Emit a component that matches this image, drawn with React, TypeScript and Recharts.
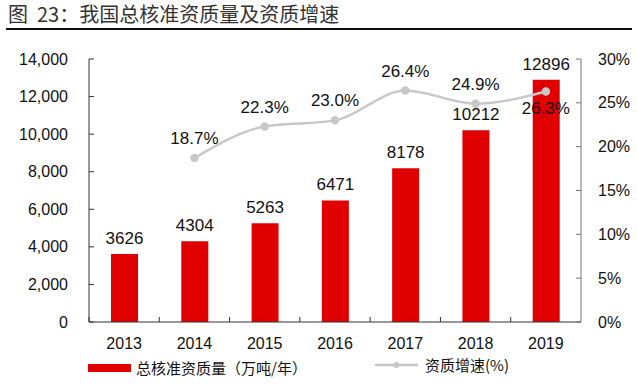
import { ComposedChart, Bar, Line, XAxis, YAxis, LabelList } from 'recharts';

const years = ['2013', '2014', '2015', '2016', '2017', '2018', '2019'];
const volume = [3626, 4304, 5263, 6471, 8178, 10212, 12896];
const growth = [null, 18.7, 22.3, 23.0, 26.4, 24.9, 26.3];
const leftTicks = [0, 2000, 4000, 6000, 8000, 10000, 12000, 14000];
const rightTicks = [0, 5, 10, 15, 20, 25, 30];

const W = 637;
const H = 386;
const LEFT_W = 89;
const RIGHT_W = 56;
const FONT = '"Liberation Sans", Arial, sans-serif';
const CJK = '"Noto Sans CJK SC", sans-serif';
const RED = '#e00000';
const GREY = '#c8c8c8';

const band = (W - LEFT_W - RIGHT_W) / years.length;

const data = years.map((y, i) => ({ year: y, volume: volume[i], growth: growth[i] }));

const LeftTick = ({ x, y, payload }: any) => (
  <g>
    <line x1={x} x2={x + 5} y1={y} y2={y} stroke="#333" />
    <text x={x - 21} y={y} dy="0.35em" textAnchor="end" fontSize={16} fill="#111" fontFamily={FONT}>
      {payload.value.toLocaleString('en-US')}
    </text>
  </g>
);

const RightTick = ({ x, y, payload }: any) => (
  <g>
    <line x1={x - 5} x2={x} y1={y} y2={y} stroke="#777" />
    <text x={x + 17} y={y} dy="0.35em" textAnchor="start" fontSize={16} fill="#111" fontFamily={FONT}>
      {payload.value}%
    </text>
  </g>
);

const BottomTick = ({ x, y, payload }: any) => (
  <g>
    <line x1={x - band / 2} x2={x - band / 2} y1={y} y2={y - 5} stroke="#333" />
    <text x={x} y={y + 27} textAnchor="middle" fontSize={16} fill="#111" fontFamily={FONT}>
      {payload.value}
    </text>
  </g>
);

// last point's label sits under the dot
const GrowthLabel = ({ x, y, value, index }: any) => {
  if (value == null) return null;
  const below = index === years.length - 1;
  return (
    <text x={x} y={below ? y + 23 : y - 14} textAnchor="middle" fontSize={17} fill="#111" fontFamily={FONT}>
      {Number(value).toFixed(1)}%
    </text>
  );
};

export default function App() {
  return (
    <div style={{ position: 'absolute', left: 0, top: 0, width: W, height: H, background: '#fff' }}>
      <div style={{ position: 'absolute', left: 8, top: 3, fontSize: 20, lineHeight: '22px', color: '#333', fontFamily: CJK, whiteSpace: 'nowrap' }}>
        图&nbsp;&nbsp;23：我国总核准资质量及资质增速
      </div>
      <div style={{ position: 'absolute', left: 6, top: 28, width: 626, height: 2, background: '#111' }} />

      <ComposedChart width={W} height={H} data={data} margin={{ top: 59, right: 0, bottom: 34, left: 0 }}>
        <XAxis
          dataKey="year"
          height={30}
          axisLine={{ stroke: '#333' }}
          tickLine={false}
          tickSize={0}
          tickMargin={0}
          tick={<BottomTick />}
          interval={0}
        />
        <YAxis
          yAxisId="left"
          width={LEFT_W}
          domain={[0, 14000]}
          ticks={leftTicks}
          axisLine={{ stroke: '#333' }}
          tickLine={false}
          tickSize={0}
          tickMargin={0}
          tick={<LeftTick />}
          interval={0}
        />
        <YAxis
          yAxisId="right"
          orientation="right"
          width={RIGHT_W}
          domain={[0, 30]}
          ticks={rightTicks}
          axisLine={{ stroke: '#777' }}
          tickLine={false}
          tickSize={0}
          tickMargin={0}
          tick={<RightTick />}
          interval={0}
        />
        <Bar yAxisId="left" dataKey="volume" fill={RED} barSize={27} isAnimationActive={false}>
          <LabelList dataKey="volume" position="top" offset={10} fontSize={17} fill="#111" fontFamily={FONT} />
        </Bar>
        <Line
          yAxisId="right"
          dataKey="growth"
          type="monotone"
          stroke={GREY}
          strokeWidth={2.5}
          dot={{ r: 3, fill: GREY, stroke: GREY }}
          isAnimationActive={false}
        >
          <LabelList dataKey="growth" content={<GrowthLabel />} />
        </Line>
      </ComposedChart>

      <div style={{ position: 'absolute', left: 88, top: 357, display: 'flex', alignItems: 'center', fontFamily: CJK, fontSize: 15, color: '#111' }}>
        <div style={{ width: 43, height: 8, background: RED, marginRight: 5 }} />
        <span>总核准资质量（万吨/年）</span>
      </div>
      <div style={{ position: 'absolute', left: 375, top: 354, display: 'flex', alignItems: 'center', fontFamily: CJK, fontSize: 15, color: '#111' }}>
        <svg width={43} height={10} style={{ marginRight: 7 }}>
          <line x1={0} x2={43} y1={5} y2={5} stroke={GREY} strokeWidth={2.5} />
          <circle cx={21.5} cy={5} r={3} fill={GREY} />
        </svg>
        <span>资质增速(%)</span>
      </div>
    </div>
  );
}
